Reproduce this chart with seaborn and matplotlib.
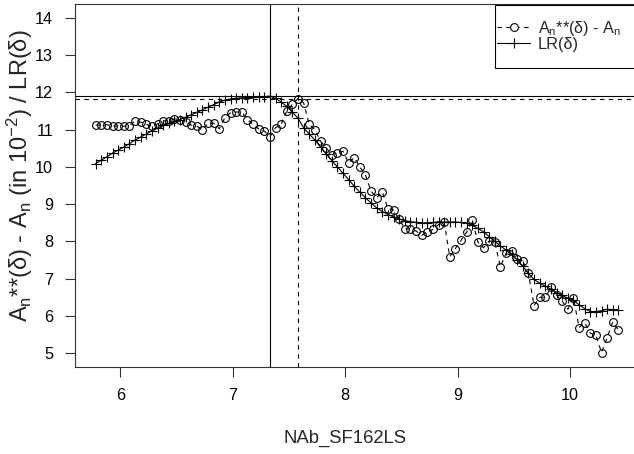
import numpy as np
import pandas as pd
import matplotlib
matplotlib.use("Agg")
import matplotlib.pyplot as plt
from matplotlib.patches import Rectangle
import seaborn as sns

# ---- data ----
x_vals = [5.78, 5.83, 5.88, 5.93, 5.98, 6.03, 6.08, 6.13, 6.18, 6.23,
          6.28, 6.33, 6.38, 6.43, 6.48, 6.53, 6.58, 6.63, 6.68, 6.73,
          6.78, 6.83, 6.88, 6.93, 6.98, 7.03, 7.08, 7.13, 7.18, 7.23,
          7.28, 7.33, 7.38, 7.43, 7.48, 7.53, 7.58, 7.63, 7.68, 7.73,
          7.78, 7.83, 7.88, 7.93, 7.98, 8.03, 8.08, 8.13, 8.18, 8.23,
          8.28, 8.33, 8.38, 8.43, 8.48, 8.53, 8.58, 8.63, 8.68, 8.73,
          8.78, 8.83, 8.88, 8.93, 8.98, 9.03, 9.08, 9.13, 9.18, 9.23,
          9.28, 9.33, 9.38, 9.43, 9.48, 9.53, 9.58, 9.63, 9.68, 9.73,
          9.78, 9.83, 9.88, 9.93, 9.98, 10.03, 10.08, 10.13, 10.18, 10.23,
          10.28, 10.33, 10.38, 10.43]

a_vals = [11.12, 11.12, 11.13, 11.10, 11.09, 11.09, 11.10, 11.23, 11.20, 11.14,
          11.09, 11.15, 11.23, 11.24, 11.29, 11.26, 11.20, 11.12, 11.09, 11.00,
          11.17, 11.17, 11.02, 11.32, 11.45, 11.47, 11.47, 11.27, 11.14, 11.02,
          10.96, 10.81, 11.05, 11.14, 11.50, 11.68, 11.83, 11.72, 11.14, 11.00,
          10.69, 10.51, 10.33, 10.36, 10.42, 10.11, 10.25, 10.00, 9.78, 9.35,
          9.17, 9.33, 8.88, 8.84, 8.60, 8.34, 8.33, 8.28, 8.16, 8.25,
          8.32, 8.45, 8.52, 7.59, 7.81, 8.03, 8.25, 8.57, 7.98, 7.83,
          8.01, 7.98, 7.32, 7.68, 7.74, 7.54, 7.47, 7.14, 6.28, 6.50,
          6.50, 6.77, 6.56, 6.40, 6.18, 6.49, 5.69, 5.82, 5.54, 5.48,
          5.02, 5.42, 5.84, 5.62]

lr_vals = [10.09, 10.18, 10.27, 10.37, 10.45, 10.53, 10.62, 10.72, 10.80, 10.88,
           10.97, 11.04, 11.11, 11.17, 11.22, 11.27, 11.33, 11.40, 11.46, 11.53,
           11.60, 11.67, 11.74, 11.79, 11.82, 11.84, 11.85, 11.86, 11.87, 11.87,
           11.88, 11.90, 11.84, 11.74, 11.62, 11.47, 11.30, 11.05, 10.88, 10.72,
           10.53, 10.35, 10.17, 10.00, 9.83, 9.66, 9.48, 9.32, 9.17, 9.03,
           8.90, 8.80, 8.72, 8.66, 8.60, 8.56, 8.53, 8.51, 8.50, 8.50,
           8.51, 8.52, 8.52, 8.52, 8.52, 8.51, 8.49, 8.43, 8.35, 8.26,
           8.13, 8.00, 7.88, 7.77, 7.66, 7.50, 7.33, 7.14, 6.98, 6.88,
           6.80, 6.72, 6.62, 6.55, 6.48, 6.42, 6.30, 6.20, 6.12, 6.12,
           6.14, 6.18, 6.17, 6.17]

x_ticks = [6, 7, 8, 9, 10]
y_ticks = [5, 6, 7, 8, 9, 10, 11, 12, 13, 14]
x_label = "NAb_SF162LS"
y_label = r"$A_n$**(δ) - $A_n$ (in $10^{-2}$) / LR(δ)"
legend_labels = [r"$A_n$**(δ) - $A_n$", "LR(δ)"]

df = pd.DataFrame({"x": x_vals, "a": a_vals, "lr": lr_vals})

# ---- style ----
sns.set_style("ticks")
plt.rcParams["font.family"] = ["Liberation Sans", "DejaVu Sans"]
plt.rcParams["mathtext.fontset"] = "custom"
plt.rcParams["mathtext.rm"] = "Liberation Sans"
plt.rcParams["mathtext.it"] = "Liberation Sans"
plt.rcParams["mathtext.bf"] = "Liberation Sans:bold"
plt.rcParams["mathtext.default"] = "regular"

W, H = 634, 454
fig = plt.figure(figsize=(W / 100, H / 100), dpi=100)
ax_left, ax_right, ax_top, ax_bottom = 75, 642, 4.3, 366.7
ax_w, ax_h = ax_right - ax_left, ax_bottom - ax_top
ax = fig.add_axes([ax_left / W, (H - ax_bottom) / H, ax_w / W, ax_h / H])


def px_x(px):
    return (px - ax_left) / ax_w


def px_y(py):
    return (ax_bottom - py) / ax_h


lw = 0.8
dash = (0, (4, 4))
circ_ms = 5.6
plus_ms = 7

sns.lineplot(data=df, x="x", y="a", ax=ax, color="black", lw=lw,
             marker="o", markersize=circ_ms, markerfacecolor="none",
             markeredgecolor="black", markeredgewidth=lw, estimator=None,
             sort=False)
ax.lines[-1].set_linestyle(dash)
sns.lineplot(data=df, x="x", y="lr", ax=ax, color="black", lw=lw,
             marker="+", markersize=plus_ms, markeredgewidth=lw,
             markeredgecolor="black", markerfacecolor="black",
             estimator=None, sort=False)

# reference lines at the maxima
i_lr = int(np.argmax(lr_vals))
i_a = int(np.argmax(a_vals))
ax.axhline(lr_vals[i_lr], color="black", lw=lw)
ax.axhline(a_vals[i_a], color="black", lw=lw, linestyle=dash)
ax.axvline(x_vals[i_lr], color="black", lw=lw)
ax.axvline(x_vals[i_a], color="black", lw=lw, linestyle=dash)

# limits (R style 4% padding)
ax.set_xlim(5.596, 10.640)
ax.set_ylim(4.64, 14.36)
ax.set_xticks(x_ticks)
ax.set_yticks(y_ticks)
ax.tick_params(axis="both", direction="out", length=7.2, width=0.8,
               color="#333333", labelsize=11.7, labelcolor="black")
ax.tick_params(axis="x", pad=8.4)
ax.tick_params(axis="y", pad=8.6)
for s in ax.spines.values():
    s.set_visible(True)
    s.set_color("#333333")
    s.set_linewidth(0.8)

ax.set_xlabel(x_label, fontsize=13.3)
ax.set_ylabel(y_label, fontsize=17)
ax.xaxis.set_label_coords(px_x(345), px_y(438))
ax.xaxis.label.set_va("center")
ax.yaxis.set_label_coords(px_x(19.5), px_y(176))
ax.yaxis.label.set_va("center")

# legend box (R style, top-right, right edge outside the picture)
ax.add_patch(Rectangle((px_x(495), px_y(68)), px_x(650) - px_x(495),
                       px_y(5) - px_y(68), transform=ax.transAxes,
                       facecolor="white", edgecolor="black", lw=0.8,
                       clip_on=False, zorder=10))
row_y = [26.5, 42.5]
base_y = [33, 48.5]
ax.plot([px_x(497), px_x(530)], [px_y(row_y[0])] * 2, transform=ax.transAxes,
        color="black", lw=lw, linestyle=dash, clip_on=False, zorder=11)
ax.plot([px_x(513.5)], [px_y(row_y[0])], transform=ax.transAxes, marker="o",
        markersize=circ_ms, markerfacecolor="white", markeredgecolor="black",
        markeredgewidth=lw, clip_on=False, zorder=12)
ax.plot([px_x(497), px_x(530)], [px_y(row_y[1])] * 2, transform=ax.transAxes,
        color="black", lw=lw, clip_on=False, zorder=11)
ax.plot([px_x(513.5)], [px_y(row_y[1])], transform=ax.transAxes, marker="+",
        markersize=plus_ms, markeredgecolor="black", markeredgewidth=lw,
        clip_on=False, zorder=12)
for lab, by in zip(legend_labels, base_y):
    ax.text(px_x(538), px_y(by), lab, transform=ax.transAxes, fontsize=11.7,
            ha="left", va="baseline", zorder=12)

fig.savefig("out.png", dpi=100)
